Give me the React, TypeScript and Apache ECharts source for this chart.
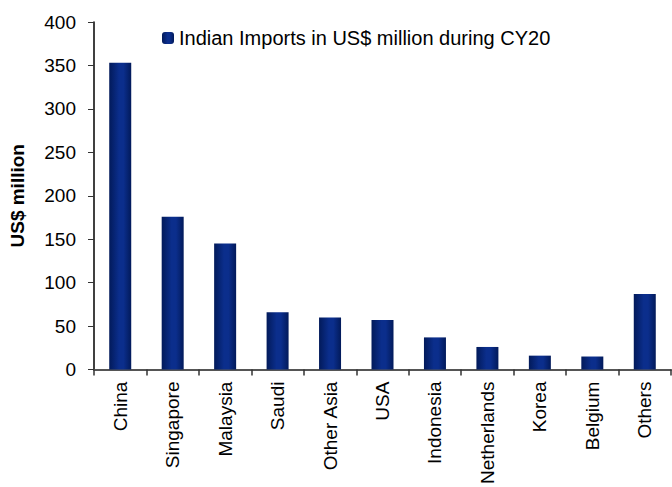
import React, { useEffect, useRef } from "react";
import * as echarts from "echarts";

const categories = ["China", "Singapore", "Malaysia", "Saudi", "Other Asia", "USA", "Indonesia", "Netherlands", "Korea", "Belgium", "Others"];
const imports = [353, 176, 145, 66, 60, 57, 37, 26, 16, 15, 87];
const yTicks = [0, 50, 100, 150, 200, 250, 300, 350, 400];
const seriesName = "Indian Imports in US$ million during CY20";

const FONT = "Liberation Sans, Arial, sans-serif";

export default function App() {
  const ref = useRef<HTMLDivElement>(null);
  useEffect(() => {
    const chart = echarts.init(ref.current!, null, { renderer: "svg" });
    const grad = new echarts.graphic.LinearGradient(0, 0, 1, 0, [
      { offset: 0, color: "#021a5a" },
      { offset: 0.45, color: "#0b2e8c" },
      { offset: 0.65, color: "#0b2e8c" },
      { offset: 1, color: "#021a5a" },
    ]);
    chart.setOption({
      animation: false,
      textStyle: { fontFamily: FONT },
      grid: { left: 91, top: 22, right: 1, bottom: 116, containLabel: false },
      legend: {
        data: [seriesName],
        left: 157,
        top: 23,
        itemWidth: 12,
        itemHeight: 12,
        itemGap: 4,
        textStyle: { fontSize: 20, color: "#000", fontFamily: FONT },
      },
      xAxis: {
        type: "category",
        data: categories,
        axisLine: { lineStyle: { color: "#555", width: 2 } },
        axisTick: { show: true, length: 6, lineStyle: { color: "#333", width: 1.5 } },
        axisLabel: { rotate: 90, fontSize: 19, color: "#000", margin: 12, interval: 0, fontFamily: FONT },
      },
      yAxis: {
        type: "value",
        min: 0,
        max: 400,
        interval: 50,
        name: "US$ million",
        nameLocation: "middle",
        nameGap: 67,
        nameTextStyle: { fontSize: 19, fontWeight: "bold", color: "#000", fontFamily: FONT },
        axisLine: { show: true, lineStyle: { color: "#000", width: 1.5 } },
        axisTick: { show: true, length: 6, lineStyle: { color: "#333" } },
        axisLabel: {
          fontSize: 19,
          color: "#000",
          margin: 18,
          fontFamily: FONT,
          formatter: (v: number) => (yTicks.includes(v) ? String(v) : ""),
        },
        splitLine: { show: false },
      },
      series: [
        {
          name: seriesName,
          type: "bar",
          data: imports,
          barWidth: 22,
          itemStyle: { color: grad },
        },
      ],
    });
    return () => chart.dispose();
  }, []);
  return <div ref={ref} style={{ width: 672, height: 487, position: "absolute", left: 0, top: 0 }} />;
}
